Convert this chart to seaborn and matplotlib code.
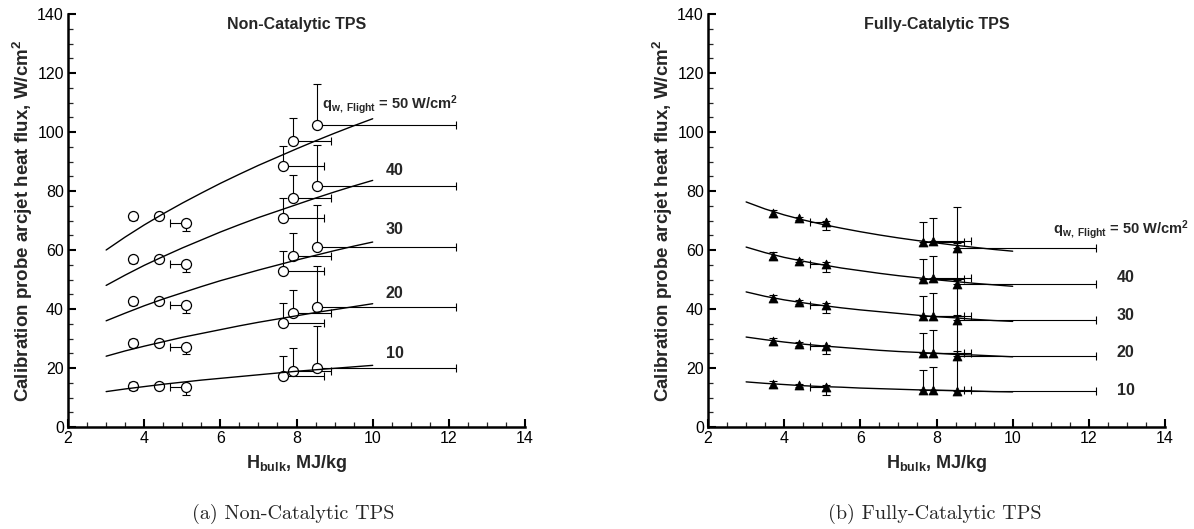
import matplotlib
matplotlib.use("Agg")
import numpy as np
import pandas as pd
import matplotlib.pyplot as plt
import seaborn as sns
from matplotlib.ticker import MultipleLocator

# ---- test conditions (bulk enthalpy, MJ/kg) ----
H_TEST = [3.7, 4.4, 5.1, 7.65, 7.9, 8.55]
LEVELS = [50, 40, 30, 20, 10]

# ---- measured calibration heat flux, non-catalytic TPS (W/cm^2) ----
NONCAT_50 = [71.4, 71.6, 69.0, 88.6, 97.1, 102.4]
NONCAT_40 = [56.8, 57.0, 55.2, 71.0, 77.5, 81.7]
NONCAT_30 = [42.6, 42.7, 41.3, 53.0, 58.0, 61.1]
NONCAT_20 = [28.4, 28.4, 27.2, 35.2, 38.5, 40.6]
NONCAT_10 = [13.9, 13.9, 13.5, 17.3, 19.1, 20.1]

# ---- measured calibration heat flux, fully-catalytic TPS (W/cm^2) ----
CAT_50 = [72.4, 70.7, 69.4, 62.8, 63.2, 60.7]
CAT_40 = [58.1, 56.4, 55.4, 50.2, 50.4, 48.5]
CAT_30 = [43.6, 42.4, 41.5, 37.6, 37.7, 36.2]
CAT_20 = [29.1, 28.2, 27.4, 25.1, 25.2, 24.2]
CAT_10 = [14.5, 14.1, 13.6, 12.6, 12.6, 12.1]

# ---- uncertainty bars ----
NONCAT_ERR_UP = [1.3, 0.8, 0.0, 6.8, 7.8, 14.0]
NONCAT_ERR_DN = [1.3, 0.8, 2.5, 0.0, 0.0, 0.0]
CAT_ERR_UP = [1.2, 0.6, 0.5, 6.8, 7.6, 13.8]
CAT_ERR_DN = [1.2, 0.6, 2.7, 0.0, 0.0, 0.0]
H_ERR_LO = [0.0, 0.0, 0.42, 0.0, 0.0, 0.0]
H_ERR_HI = [0.0, 0.0, 0.0, 1.08, 1.0, 3.65]

# ---- correlation curves for constant flight heat flux ----
CURVE_H = [3.0, 3.5, 4.0, 4.5, 5.0, 5.5, 6.0, 6.5, 7.0, 7.5, 8.0, 8.5, 9.0, 9.5, 10.0]
NONCAT_CURVE_50 = [60.0, 64.4, 68.5, 72.3, 75.9, 79.3, 82.6, 85.7, 88.7, 91.5, 94.3, 97.0, 99.6, 102.1, 104.5]
NONCAT_CURVE_40 = [48.0, 51.5, 54.8, 57.8, 60.7, 63.4, 66.1, 68.6, 71.0, 73.2, 75.4, 77.6, 79.7, 81.7, 83.6]
NONCAT_CURVE_30 = [36.0, 38.6, 41.1, 43.4, 45.5, 47.6, 49.6, 51.4, 53.2, 54.9, 56.6, 58.2, 59.8, 61.3, 62.7]
NONCAT_CURVE_20 = [24.0, 25.8, 27.4, 28.9, 30.4, 31.7, 33.0, 34.3, 35.5, 36.6, 37.7, 38.8, 39.8, 40.8, 41.8]
NONCAT_CURVE_10 = [12.0, 12.9, 13.7, 14.5, 15.2, 15.9, 16.5, 17.1, 17.7, 18.3, 18.9, 19.4, 19.9, 20.4, 20.9]
CAT_CURVE_50 = [76.3, 73.9, 71.9, 70.2, 68.7, 67.4, 66.2, 65.1, 64.1, 63.2, 62.4, 61.6, 60.9, 60.2, 59.6]
CAT_CURVE_40 = [61.0, 59.1, 57.5, 56.2, 55.0, 53.9, 53.0, 52.1, 51.3, 50.6, 49.9, 49.3, 48.7, 48.2, 47.7]
CAT_CURVE_30 = [45.8, 44.3, 43.1, 42.1, 41.2, 40.4, 39.7, 39.1, 38.5, 37.9, 37.4, 37.0, 36.5, 36.1, 35.8]
CAT_CURVE_20 = [30.5, 29.6, 28.8, 28.1, 27.5, 27.0, 26.5, 26.0, 25.6, 25.3, 25.0, 24.6, 24.4, 24.1, 23.8]
CAT_CURVE_10 = [15.3, 14.8, 14.4, 14.0, 13.7, 13.5, 13.2, 13.0, 12.8, 12.6, 12.5, 12.3, 12.2, 12.0, 11.9]

sns.set_theme(style="ticks")
plt.rcParams["font.family"] = ["Liberation Sans", "DejaVu Sans"]
plt.rcParams["mathtext.fontset"] = "custom"
plt.rcParams["mathtext.rm"] = "Liberation Sans"
plt.rcParams["mathtext.bf"] = "Liberation Sans:bold"
plt.rcParams["mathtext.it"] = "Liberation Sans:italic"


def long_points(values):
    rows = []
    for lvl, vals in zip(LEVELS, values):
        for h, q in zip(H_TEST, vals):
            rows.append({"H": h, "q": q, "level": lvl})
    return pd.DataFrame(rows)


def long_curves(values):
    rows = []
    for lvl, vals in zip(LEVELS, values):
        for h, q in zip(CURVE_H, vals):
            rows.append({"H": h, "q": q, "level": lvl})
    return pd.DataFrame(rows)


noncat_pts = long_points([NONCAT_50, NONCAT_40, NONCAT_30, NONCAT_20, NONCAT_10])
cat_pts = long_points([CAT_50, CAT_40, CAT_30, CAT_20, CAT_10])
noncat_curves = long_curves([NONCAT_CURVE_50, NONCAT_CURVE_40, NONCAT_CURVE_30,
                             NONCAT_CURVE_20, NONCAT_CURVE_10])
cat_curves = long_curves([CAT_CURVE_50, CAT_CURVE_40, CAT_CURVE_30,
                          CAT_CURVE_20, CAT_CURVE_10])

fig = plt.figure(figsize=(11.94, 5.29), dpi=100)
ax1 = fig.add_axes([0.0570, 0.1928, 0.3827, 0.7807])
ax2 = fig.add_axes([0.5930, 0.1928, 0.3827, 0.7807])

black = {lvl: "black" for lvl in LEVELS}


def draw_errorbars(ax, pts, up, dn):
    for lvl in LEVELS:
        sub = pts[pts["level"] == lvl].reset_index(drop=True)
        for i, row in sub.iterrows():
            if up[i] > 0 or dn[i] > 0:
                ax.errorbar(row["H"], row["q"], yerr=[[dn[i]], [up[i]]], fmt="none",
                            ecolor="black", elinewidth=0.8, capsize=2.6,
                            capthick=0.8, zorder=2)
            if H_ERR_LO[i] > 0 or H_ERR_HI[i] > 0:
                ax.errorbar(row["H"], row["q"], xerr=[[H_ERR_LO[i]], [H_ERR_HI[i]]],
                            fmt="none", ecolor="black", elinewidth=0.8, capsize=2.6,
                            capthick=0.8, zorder=2)


def style_axes(ax):
    ax.set_xlim(2, 14)
    ax.set_ylim(0, 140)
    ax.xaxis.set_major_locator(MultipleLocator(2))
    ax.xaxis.set_minor_locator(MultipleLocator(0.5))
    ax.yaxis.set_major_locator(MultipleLocator(20))
    ax.yaxis.set_minor_locator(MultipleLocator(5))
    ax.tick_params(which="major", direction="in", length=6, width=1.5,
                   labelsize=11.5, pad=3, colors="black")
    ax.tick_params(which="minor", direction="in", length=3.5, width=0.9)
    for side in ("top", "right"):
        ax.spines[side].set_visible(False)
    for side in ("left", "bottom"):
        ax.spines[side].set_linewidth(1.8)
        ax.spines[side].set_color("black")
    ax.set_xlabel(r"$\mathbf{H_{bulk}}$, MJ/kg", fontsize=13, fontweight="bold")
    ax.set_ylabel(r"Calibration probe arcjet heat flux, W/cm$^\mathbf{2}$",
                  fontsize=13.5, fontweight="bold")
    ax.yaxis.set_label_coords(-0.073, 0.5)
    ax.xaxis.set_label_coords(0.5, -0.062)
    ax.set_facecolor("white")


flight_label = r"$\mathbf{q_{w,\ Flight}}$ = 50 W/cm$^\mathbf{2}$"

# ---- (a) non-catalytic ----
draw_errorbars(ax1, noncat_pts, NONCAT_ERR_UP, NONCAT_ERR_DN)
sns.scatterplot(data=noncat_pts, x="H", y="q", ax=ax1, marker="o", s=52,
                facecolor="white", edgecolor="black", linewidth=0.9,
                legend=False, zorder=3)
sns.lineplot(data=noncat_curves, x="H", y="q", hue="level", palette=black,
             units="level", estimator=None, linewidth=1.0, legend=False,
             ax=ax1, zorder=4, sort=False)
style_axes(ax1)
ax1.text(8.0, 136.3, "Non-Catalytic TPS", ha="center", va="center",
         fontsize=11.5, fontweight="bold")
ax1.text(8.68, 109.2, flight_label, ha="left", va="center", fontsize=10.5, fontweight="bold")
for txt, yy in zip(["40", "30", "20", "10"], [86.8, 67.0, 45.3, 25.0]):
    ax1.text(10.34, yy, txt, ha="left", va="center", fontsize=11.5, fontweight="bold")

# ---- (b) fully-catalytic ----
draw_errorbars(ax2, cat_pts, CAT_ERR_UP, CAT_ERR_DN)
sns.scatterplot(data=cat_pts, x="H", y="q", ax=ax2, marker="^", s=42,
                color="black", edgecolor="black", linewidth=0.5,
                legend=False, zorder=3)
sns.lineplot(data=cat_curves, x="H", y="q", hue="level", palette=black,
             units="level", estimator=None, linewidth=1.0, legend=False,
             ax=ax2, zorder=4, sort=False)
style_axes(ax2)
ax2.text(8.0, 136.3, "Fully-Catalytic TPS", ha="center", va="center",
         fontsize=11.5, fontweight="bold")
ax2.text(11.05, 66.8, flight_label, ha="left", va="center", fontsize=10.5, fontweight="bold")
for txt, yy in zip(["40", "30", "20", "10"], [50.8, 37.9, 25.3, 12.4]):
    ax2.text(12.73, yy, txt, ha="left", va="center", fontsize=11.5, fontweight="bold")

# ---- sub-figure captions ----
fig.text(0.2455, 0.029, "(a) Non-Catalytic TPS", ha="center", va="center",
         fontsize=14.5, family="cmr10")
fig.text(0.7825, 0.029, "(b) Fully-Catalytic TPS", ha="center", va="center",
         fontsize=14.5, family="cmr10")

fig.savefig("out.png", dpi=100, facecolor="white")
